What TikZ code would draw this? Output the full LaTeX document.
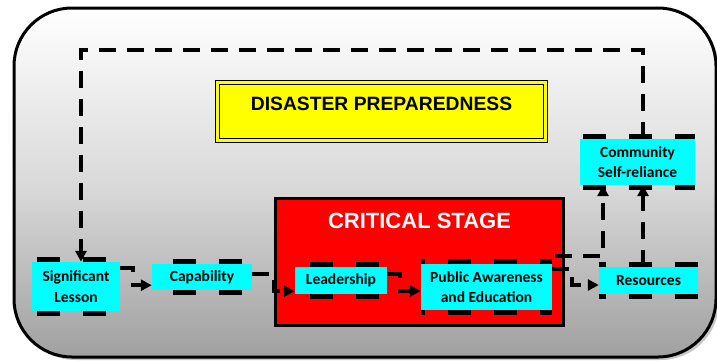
\documentclass[tikz,border=0pt]{standalone}
\usepackage{fontspec}
\setmainfont{Liberation Sans}
\newfontfamily\carl{Carlito}
\usetikzlibrary{arrows.meta}
\pgfdeclarelayer{back}
\pgfdeclarelayer{mid}
\pgfsetlayers{back,mid,main}
\definecolor{cy}{RGB}{0,255,255}
\definecolor{rd}{RGB}{255,0,0}
\definecolor{yl}{RGB}{255,255,0}
\definecolor{gmid}{RGB}{218,218,218}
\definecolor{gbot}{RGB}{160,160,160}
\definecolor{shad}{RGB}{200,200,200}
\tikzset{
  cbox/.style={fill=cy, inner sep=0pt, align=center, text=black,
    font=\carl\bfseries\fontsize{15.5}{20.5}\selectfont},
  bdash/.style={line width=5pt, dash pattern=on 23pt off 23pt, black},
  conn/.style={line width=4pt, dash pattern=on 17pt off 11pt,
    -{Triangle[length=11pt,width=11pt]}},
}
\newcommand\boxdashes[3]{%
  \begin{pgfonlayer}{mid}
  \draw[bdash, dash phase=#3pt] ([shift={(#2,-2.5)}]#1.north west) -- ([shift={(0,-2.5)}]#1.north east);
  \draw[bdash, dash phase=#3pt] ([shift={(#2,2.5)}]#1.south west) -- ([shift={(0,2.5)}]#1.south east);
  \end{pgfonlayer}}
\begin{document}
\begin{tikzpicture}[x=1pt,y=-1pt]
\useasboundingbox (0,0) rectangle (717,362);
\begin{pgfonlayer}{back}
  \fill[shad, rounded corners=58pt] (17,11) rectangle (719,360);
  \shade[top color=white, bottom color=gbot, middle color=gmid, rounded corners=58pt] (14,8) rectangle (716,357);
  \draw[line width=3pt, rounded corners=58pt] (14,8) rectangle (716,357);
  \node[draw=black, line width=1.3pt, double=yl, double distance=2.5pt, fill=yl,
        minimum width=328pt, minimum height=58pt, inner sep=0pt] (prep) at (381.5,111.5) {};
  \node[font=\bfseries\fontsize{19.3}{22}\selectfont, inner sep=0pt] (preptxt) at (381.5,104) {DISASTER PREPAREDNESS};
  \node[fill=rd, draw=black, line width=3pt, minimum width=288pt, minimum height=127pt, inner sep=0pt] (crit) at (419.5,262) {};
  \node[font=\bfseries\fontsize{22}{24}\selectfont, text=white, inner sep=0pt] (crittxt) at (419.5,220.5) {CRITICAL STAGE};
\end{pgfonlayer}

\node[cbox, minimum width=88pt, minimum height=49pt] (sl) at (76,286.5) {Significant\\Lesson};
\node[cbox, minimum width=100pt, minimum height=26pt] (cap) at (202,277) {Capability};
\node[cbox, minimum width=92pt, minimum height=27pt] (lead) at (341,280.5) {Leadership};
\node[cbox, minimum width=131pt, minimum height=46pt] (pa) at (486.5,287) {Public Awareness\\and Education};
\node[cbox, minimum width=99pt, minimum height=27pt] (res) at (648.5,280.5) {Resources};
\node[cbox, minimum width=115pt, minimum height=46pt] (com) at (637.5,162) {Community\\Self-reliance};

\boxdashes{sl}{5}{0}
\boxdashes{cap}{21}{0}
\boxdashes{lead}{15}{0}
\boxdashes{pa}{0}{19}
\boxdashes{res}{0}{16}
\boxdashes{com}{3}{0}

\draw[conn] ([shift={(5.5,0)}]com.north) -- ++(0,-89) -| ([shift={(5,0)}]sl.north);
\draw[conn] ([shift={(0,6)}]sl.north east) -- ++(13,0) |- ([shift={(0,-5)}]cap.south west);
\draw[conn] ([shift={(0,-3)}]cap.east) -- ++(22,0) |- ([shift={(0,-3)}]lead.south west);
\draw[conn] ([shift={(0,-6.5)}]lead.east) -- ++(13,0) |- ([shift={(0,4)}]pa.west);
\draw[conn] ([shift={(0,5)}]pa.north east) -- ++(20,0) |- ([shift={(0,4.5)}]res.west);
\draw[conn] ([shift={(3,-8)}]pa.north east) -| ([shift={(-34.5,0)}]com.south);
\draw[conn] ([shift={(-5.5,0)}]res.north) -- ([shift={(5.5,0)}]com.south);
\end{tikzpicture}
\end{document}
